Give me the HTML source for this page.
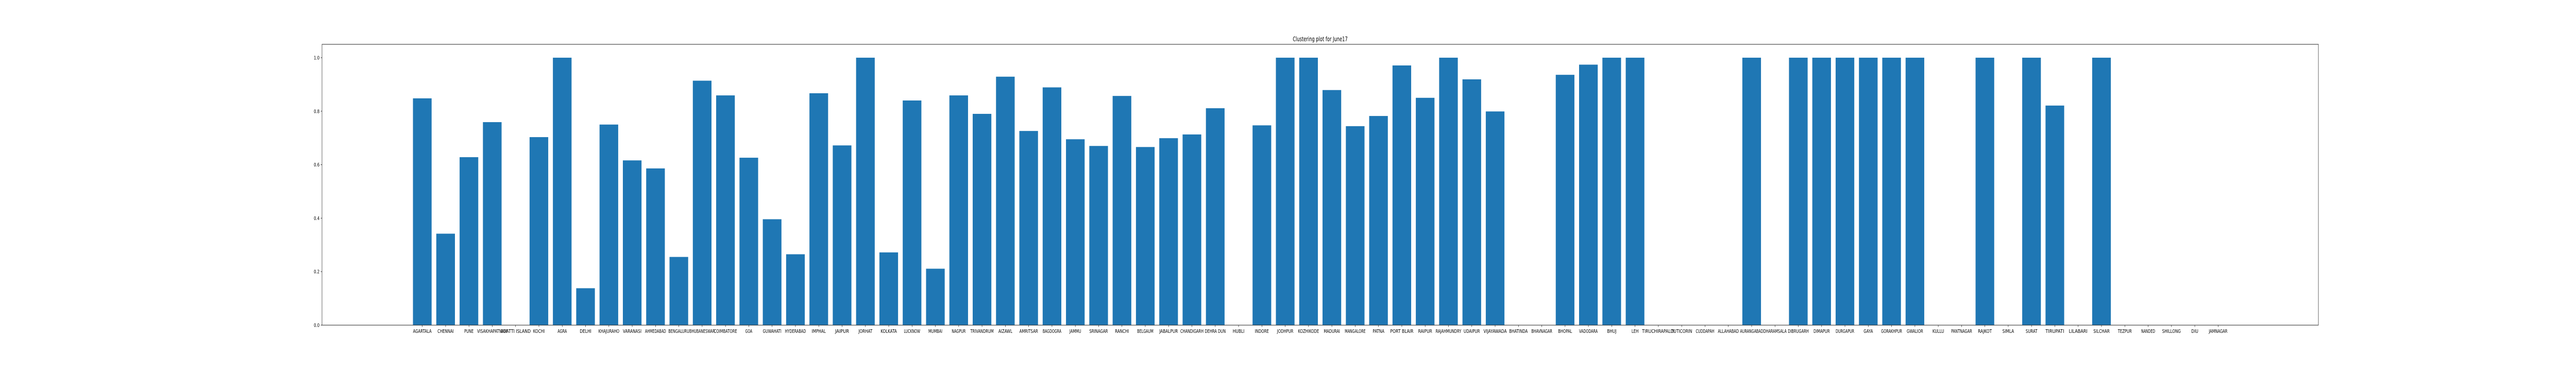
<!DOCTYPE html>
<html><head><meta charset="utf-8"><title>Clustering plot for June17</title>
<style>html,body{margin:0;padding:0;background:#fff;overflow:hidden;width:100%;height:100%;}svg{display:block;width:100vw;height:100vh;}</style></head>
<body>
<svg id="chart" viewBox="0 0 7200 720" preserveAspectRatio="none" xmlns="http://www.w3.org/2000/svg" font-family="'DejaVu Sans','Liberation Sans',sans-serif">
<rect width="7200" height="720" fill="#fff"/>
<text x="3690" y="80" text-anchor="middle" font-size="12" fill="#000">Clustering plot for June17</text>
<g id="bars"></g>
<g id="xticks"></g>
<g id="yticks"></g>
<rect x="900" y="86" width="5580" height="545" fill="none" stroke="#222" stroke-width="1"/>
</svg>
<script>
const categories = ["AGARTALA","CHENNAI","PUNE","VISAKHAPATNAM","AGATTI ISLAND","KOCHI","AGRA","DELHI","KHAJURAHO","VARANASI","AHMEDABAD","BENGALURU","BHUBANESWAR","COIMBATORE","GOA","GUWAHATI","HYDERABAD","IMPHAL","JAIPUR","JORHAT","KOLKATA","LUCKNOW","MUMBAI","NAGPUR","TRIVANDRUM","AIZAWL","AMRITSAR","BAGDOGRA","JAMMU","SRINAGAR","RANCHI","BELGAUM","JABALPUR","CHANDIGARH","DEHRA DUN","HUBLI","INDORE","JODHPUR","KOZHIKODE","MADURAI","MANGALORE","PATNA","PORT BLAIR","RAIPUR","RAJAHMUNDRY","UDAIPUR","VIJAYAWADA","BHATINDA","BHAVNAGAR","BHOPAL","VADODARA","BHUJ","LEH","TIRUCHIRAPALLY","TUTICORIN","CUDDAPAH","ALLAHABAD","AURANGABAD","DHARAMSALA","DIBRUGARH","DIMAPUR","DURGAPUR","GAYA","GORAKHPUR","GWALIOR","KULLU","PANTNAGAR","RAJKOT","SIMLA","SURAT","TIRUPATI","LILABARI","SILCHAR","TEZPUR","NANDED","SHILLONG","DIU","JAMNAGAR"];
const values = [0.848,0.342,0.628,0.759,0,0.703,1.0,0.138,0.750,0.616,0.586,0.255,0.914,0.859,0.626,0.396,0.265,0.867,0.672,1.0,0.272,0.840,0.211,0.859,0.790,0.929,0.726,0.889,0.695,0.670,0.857,0.666,0.699,0.713,0.811,0,0.747,1.0,1.0,0.879,0.744,0.782,0.971,0.850,1.0,0.919,0.799,0,0,0.936,0.974,1.0,1.0,0,0,0,0,1.0,0,1.0,1.0,1.0,1.0,1.0,1.0,0,0,1.0,0,1.0,0.821,0,1.0,0,0,0,0,0];
const yTicks = [0.0,0.2,0.4,0.6,0.8,1.0];
const yTickLabels = ["0.0","0.2","0.4","0.6","0.8","1.0"];

const NS = "http://www.w3.org/2000/svg";
const L = 900, R = 6480, T = 86, B = 631;
const xMin = -4.3, xMax = categories.length - 1 + 4.3;
const yMin = 0, yMax = 1.05;
function xs(i){ return L + (i - xMin) / (xMax - xMin) * (R - L); }
function ys(v){ return B - (v - yMin) / (yMax - yMin) * (B - T); }
const bw = 0.8 * (xs(1) - xs(0));

const barsG = document.getElementById('bars');
const xg = document.getElementById('xticks');
const yg = document.getElementById('yticks');

categories.forEach(function(c, i){
  const v = values[i];
  const r = document.createElementNS(NS, 'rect');
  r.setAttribute('x', (xs(i) - bw/2).toFixed(2));
  r.setAttribute('y', ys(v).toFixed(2));
  r.setAttribute('width', bw.toFixed(2));
  r.setAttribute('height', (ys(0) - ys(v)).toFixed(2));
  r.setAttribute('fill', '#1f77b4');
  
  
  barsG.appendChild(r);

  const t = document.createElementNS(NS, 'line');
  t.setAttribute('x1', xs(i)); t.setAttribute('x2', xs(i));
  t.setAttribute('y1', B); t.setAttribute('y2', B + 3.5);
  t.setAttribute('stroke', '#222');
  
  
  xg.appendChild(t);

  const lb = document.createElementNS(NS, 'text');
  lb.setAttribute('x', xs(i)); lb.setAttribute('y', B + 15);
  lb.setAttribute('text-anchor', 'middle');
  lb.setAttribute('font-size', '10');
  lb.setAttribute('textLength', (c.length * 6.5).toFixed(1));
  lb.setAttribute('lengthAdjust', 'spacingAndGlyphs');
  lb.textContent = c;
  
  
  xg.appendChild(lb);
});

yTicks.forEach(function(v, k){
  const t = document.createElementNS(NS, 'line');
  t.setAttribute('x1', L - 3.5); t.setAttribute('x2', L);
  t.setAttribute('y1', ys(v)); t.setAttribute('y2', ys(v));
  t.setAttribute('stroke', '#222');
  
  
  yg.appendChild(t);
  const lb = document.createElementNS(NS, 'text');
  lb.setAttribute('x', L - 7); lb.setAttribute('y', ys(v) + 3.5);
  lb.setAttribute('text-anchor', 'end');
  lb.setAttribute('font-size', '10');
  lb.textContent = yTickLabels[k];
  
  
  yg.appendChild(lb);
});
</script>
</body></html>
